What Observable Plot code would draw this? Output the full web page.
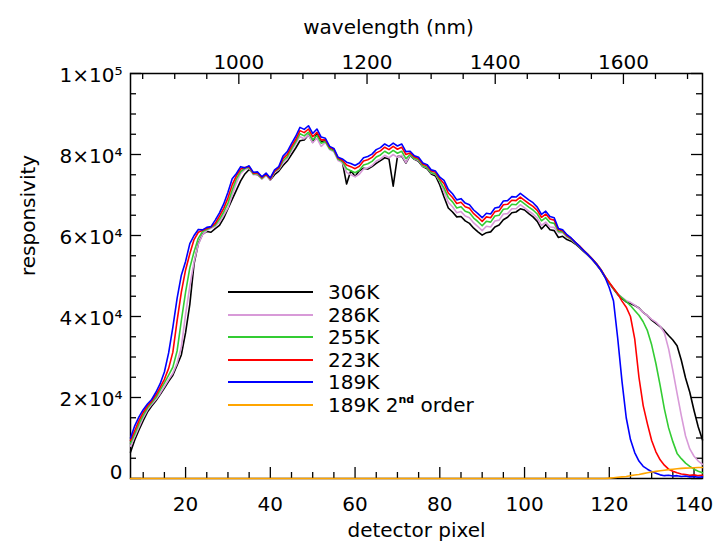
<!DOCTYPE html>
<html>
<head>
<meta charset="utf-8">
<script src="https://cdn.jsdelivr.net/npm/d3@7"></script>
<script src="https://cdn.jsdelivr.net/npm/@observablehq/plot@0.6"></script>
<style>
  html, body { margin: 0; padding: 0; background: #fff; }
  #wrap { position: relative; width: 716px; height: 549px; font-family: "DejaVu Sans", sans-serif; font-weight: 400; }
  #legend { position: absolute; left: 228px; top: 281px; font-size: 20px; color: #000; }
  #legend .row { display: flex; align-items: center; height: 22.5px; }
  #legend .sw { width: 85px; height: 2px; margin-right: 15px; }
  #legend sup { font-size: 11px; font-weight: 700; position: relative; top: -1px; }
</style>
</head>
<body>
<div id="wrap"></div>
<script>
// detector pixels 7..142
const pixel = d3.range(7, 143);

// responsivity for each temperature (one value per detector pixel)
const k306 = [
  6500,9500,12000,14300,16400,17900,19200,20700,22300,24000,
  25500,28000,30500,36000,43000,53000,58000,60300,61000,60800,
  61700,62500,64300,66600,68900,71200,73500,75200,76300,75300,
  75000,74100,75000,73700,75000,75900,77300,78400,80000,81600,
  83400,83600,84900,83000,85200,83200,83400,81500,81000,78900,
  78200,72700,76000,74600,76000,76600,76400,77000,77800,78500,
  79200,78900,72200,79500,79600,77900,79800,78800,78300,77000,
  76500,75200,74700,72500,69500,66800,65800,64600,64700,63600,
  63000,61800,60900,60100,60700,60900,62100,62600,63900,64500,
  65600,65800,66600,66300,65400,64600,63500,61600,62700,61400,
  61200,59500,59800,59000,58600,57900,57000,56000,55100,54000,
  52800,51400,49700,48200,46800,45400,44500,43600,43200,42700,
  42100,41000,40200,39100,38300,37500,36500,35300,34200,32800,
  29200,24800,21300,16800,12700,9500
];
const k286 = [
  8000,10300,12700,15000,16900,18300,19500,21000,22700,24400,
  26000,28500,32500,40500,47500,53500,57800,60200,61200,61800,
  62300,63300,65000,66800,70000,73000,75300,76300,76600,75000,
  75100,73900,74800,73700,75600,76300,77900,78900,80900,82700,
  84400,83900,84800,82900,84000,82000,83000,81200,80700,78500,
  78000,75600,75000,74500,75100,76400,76700,77300,78400,78900,
  79800,79200,80000,79300,79800,78000,79900,78900,78500,77100,
  76700,75400,75100,73300,70800,68200,67100,65600,65900,64800,
  64400,63100,62200,61200,62300,62100,63600,63800,65300,65400,
  66600,66600,67600,66800,66000,65300,64300,62500,63300,62100,
  62000,60700,60700,59600,59000,58100,57200,56200,55200,54100,
  52900,51500,49800,48300,46900,45600,44700,43900,43500,42800,
  42000,41000,40200,39300,38600,37600,36000,32000,26700,21000,
  15500,10500,7300,5500,4300,3500
];
const k255 = [
  8700,11000,13500,15600,17400,18700,20000,21800,23600,25500,
  27500,31500,39000,46000,52000,56000,59300,61000,61500,62000,
  62600,64000,65800,68000,71200,74000,75800,76600,76800,75200,
  75300,74100,75000,73900,75800,76500,78400,79400,81400,83100,
  85100,84600,85500,83600,84700,82800,83200,81400,80900,78800,
  78300,76500,76000,75500,76100,77400,77700,78300,79400,79900,
  80800,80200,81000,80300,80800,79000,80000,79000,78700,77200,
  76800,75500,75200,73500,71700,69400,68300,66800,67100,66000,
  65600,64300,63400,62400,63500,63300,64800,65000,66500,66600,
  67700,67600,68600,67800,67000,66300,65300,63600,64400,63200,
  63000,61000,60900,59800,59100,58200,57300,56300,55300,54200,
  53000,51600,49900,48300,46900,45500,44600,43700,42700,41500,
  40300,38700,36500,33000,28400,23000,17200,12500,9100,6200,
  4900,3800,3000,2300,1800,1400
];
const k223 = [
  9400,11800,14300,16300,17900,19100,20600,22500,24500,27200,
  31200,39000,46000,51500,55500,59000,60800,61300,61700,62100,
  63000,64800,66700,69300,72500,74800,76400,76800,77000,75400,
  75500,74300,75200,74000,75900,76700,79000,80000,82000,83700,
  85900,85400,86300,84400,85500,83600,83600,81800,81300,79100,
  78600,77400,77000,76500,77100,78400,78700,79300,80400,80900,
  81800,81200,82000,81300,81800,80000,80400,79400,79000,77600,
  77200,75900,75600,74000,72800,70500,69400,67900,68200,67100,
  66700,65400,64500,63500,64600,64400,65900,66100,67600,67700,
  68700,68600,69500,68700,67900,67200,66200,64500,65300,64100,
  63800,61400,61200,60000,59300,58300,57400,56300,55300,54200,
  53000,51600,49900,48400,47000,45600,43800,42300,40000,34500,
  25000,18000,13500,9400,6600,4600,3300,2300,1800,1400,
  1100,1000,800,900,700,800
];
const k189 = [
  10000,13000,15200,17000,18400,19500,21300,23400,26300,31000,
  37400,44500,50200,53600,58000,60000,61500,61400,62000,62200,
  63800,65600,67800,70700,74000,75300,77000,76700,77200,75600,
  75700,74500,75400,74200,76200,77000,79600,80700,82700,84500,
  86700,86200,87100,85200,86300,84300,84000,82000,81500,79300,
  78900,78100,77800,77300,77900,79200,79500,80100,81200,81700,
  82600,82000,82800,82100,82600,80700,80800,79700,79300,77900,
  77500,76200,75900,74400,73600,71400,70300,68800,69100,68000,
  67600,66300,65400,64400,65500,65300,66800,67000,68500,68600,
  69600,69500,70400,69600,68800,68100,67000,65200,66000,64700,
  64400,61700,61400,60200,59400,58300,57300,56200,55200,54100,
  52900,51500,49700,47100,43800,34500,24000,15000,9600,6400,
  4300,3000,2300,1700,1300,900,700,800,600,700,
  500,600,400,500,300,400
];
const k189second = [
  0,0,0,0,0,0,0,0,0,0,
  0,0,0,0,0,0,0,0,0,0,
  0,0,0,0,0,0,0,0,0,0,
  0,0,0,0,0,0,0,0,0,0,
  0,0,0,0,0,0,0,0,0,0,
  0,0,0,0,0,0,0,0,0,0,
  0,0,0,0,0,0,0,0,0,0,
  0,0,0,0,0,0,0,0,0,0,
  0,0,0,0,0,0,0,0,0,0,
  0,0,0,0,0,0,0,0,0,0,
  0,0,0,0,0,0,0,0,0,0,
  0,0,0,100,200,300,400,500,700,850,
  1000,1200,1400,1600,1750,1900,2050,2200,2300,2400,
  2500,2550,2600,2650,2700,2700
];

const seriesNames = ["306K", "286K", "255K", "223K", "189K", "189K 2nd order"];
const seriesColors = ["#000000", "#d89ad8", "#33cc33", "#ff0000", "#0000ff", "#ffa500"];
const seriesValues = [k306, k286, k255, k223, k189, k189second];

// axis ticks
const xMajor = [20, 40, 60, 80, 100, 120, 140];
const xMinor = [10, 15, 25, 30, 35, 45, 50, 55, 65, 70, 75, 85, 90, 95, 105, 110, 115, 125, 130, 135];
const yMajor = [0, 20000, 40000, 60000, 80000, 100000];
const yMinor = [5000, 10000, 15000, 25000, 30000, 35000, 45000, 50000, 55000, 65000, 70000, 75000, 85000, 90000, 95000];
const wlMajor = [1000, 1200, 1400, 1600];
const wlMinor = [850, 900, 950, 1050, 1100, 1150, 1250, 1300, 1350, 1450, 1500, 1550, 1650, 1700];

// wavelength calibration (nm) of detector pixels
const WL0 = 831, WL_STEP = 6.61;
const wlToPix = w => 7 + (w - WL0) / WL_STEP;
const pixToWl = p => WL0 + (p - 7) * WL_STEP;

const rows = seriesValues.flatMap((vals, s) =>
  vals.map((v, i) => ({ pixel: pixel[i], value: v, series: seriesNames[s] })));

const fmtY = v => v === 0 ? "0" : v === 100000 ? "1×10⁵" : `${v / 10000}×10⁴`;

// frame geometry (for inward tick lengths)
const W = 716, H = 549, ML = 130, MR = 14, MT = 73, MB = 71;
const FW = W - ML - MR, FH = H - MT - MB;
const MAJ = 11, MIN = 6, TW = 1.3;

const plot = Plot.plot({
  width: W,
  height: H,
  marginLeft: ML,
  marginRight: MR,
  marginTop: MT,
  marginBottom: MB,
  style: { fontFamily: "DejaVu Sans, sans-serif", fontSize: "20px", fontWeight: 400, color: "#000", background: "#fff" },
  x: { domain: [7, 142] },
  y: { domain: [0, 100000] },
  color: { domain: seriesNames, range: seriesColors },
  marks: [
    // tick labels
    Plot.axisX(xMajor, { anchor: "bottom", tickSize: 0, tickPadding: 18, label: null }),
    Plot.axisX(wlMajor.map(wlToPix), { anchor: "top", tickSize: 0, tickPadding: 5, label: null,
      tickFormat: p => String(Math.round(pixToWl(p) / 10) * 10) }),
    Plot.axisY(yMajor.filter(v => v > 0), { anchor: "left", tickSize: 0, tickPadding: 8, label: null, tickFormat: fmtY, dy: 2 }),
    Plot.axisY(yMajor.filter(v => v === 0), { anchor: "left", tickSize: 0, tickPadding: 8, label: null, tickFormat: fmtY, dy: -6 }),
    // inward ticks: bottom
    Plot.ruleX(xMajor, { insetTop: FH - MAJ, strokeWidth: TW }),
    Plot.ruleX(xMinor, { insetTop: FH - MIN, strokeWidth: TW }),
    // top (wavelength)
    Plot.ruleX(wlMajor.map(wlToPix), { insetBottom: FH - MAJ, strokeWidth: TW }),
    Plot.ruleX(wlMinor.map(wlToPix), { insetBottom: FH - MIN, strokeWidth: TW }),
    // left
    Plot.ruleY(yMajor, { insetRight: FW - MAJ, strokeWidth: TW }),
    Plot.ruleY(yMinor, { insetRight: FW - MIN, strokeWidth: TW }),
    // right
    Plot.ruleY(yMajor, { insetLeft: FW - MAJ, strokeWidth: TW }),
    Plot.ruleY(yMinor, { insetLeft: FW - MIN, strokeWidth: TW }),
    Plot.frame({ stroke: "#000", strokeWidth: 1.5 }),
    // titles
    Plot.text(["detector pixel"], { frameAnchor: "bottom", dy: 58, text: d => d, fontSize: 20 }),
    Plot.text(["wavelength (nm)"], { frameAnchor: "top", dy: -54, dx: -28, text: d => d, fontSize: 20 }),
    Plot.text(["responsivity"], { frameAnchor: "left", dx: -102, rotate: -90, text: d => d, fontSize: 20 }),
    // data
    Plot.line(rows, { x: "pixel", y: "value", z: "series", stroke: "series", strokeWidth: 1.6 })
  ]
});

const wrap = document.getElementById("wrap");
wrap.appendChild(plot);

const legend = document.createElement("div");
legend.id = "legend";
seriesNames.forEach((name, i) => {
  const row = document.createElement("div");
  row.className = "row";
  const sw = document.createElement("div");
  sw.className = "sw";
  sw.style.background = seriesColors[i];
  const label = document.createElement("span");
  label.innerHTML = name.replace("2nd", "2<sup>nd</sup>");
  row.appendChild(sw);
  row.appendChild(label);
  legend.appendChild(row);
});
wrap.appendChild(legend);
</script>
</body>
</html>
